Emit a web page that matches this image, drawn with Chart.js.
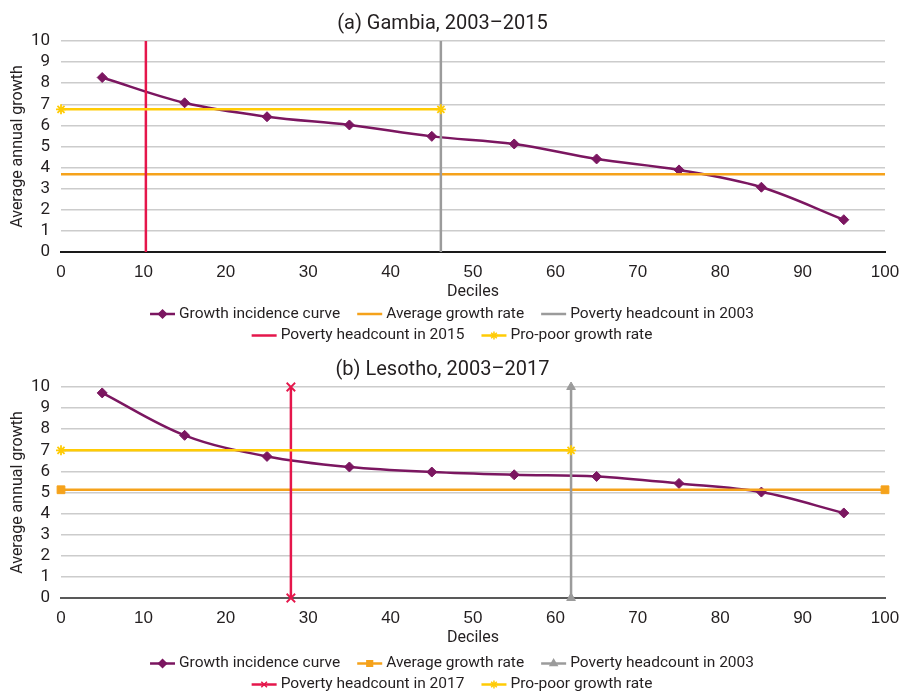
<!DOCTYPE html>
<html>
<head>
<meta charset="utf-8">
<script src="https://cdn.jsdelivr.net/npm/chart.js@4.4.1/dist/chart.umd.min.js"></script>
<style>
  html, body { margin: 0; padding: 0; background: #ffffff; }
  canvas { display: block; }
</style>
</head>
<body>
<canvas id="gambia" width="901" height="346"></canvas>
<canvas id="lesotho" width="901" height="347"></canvas>
<script>
// Decile midpoints (percent of population)
const deciles = [5, 15, 25, 35, 45, 55, 65, 75, 85, 95];

// (a) Gambia, 2003–2015
const gambiaGIC = [8.27, 7.07, 6.41, 6.02, 5.48, 5.12, 4.41, 3.89, 3.07, 1.53];
const gambiaAverage = 3.69;
const gambiaProPoor = 6.76;
const gambiaHeadcountStart = 46.1;  // poverty headcount, 2003
const gambiaHeadcountEnd = 10.3;    // poverty headcount, 2015

// (b) Lesotho, 2003–2017
const lesothoGIC = [9.72, 7.71, 6.71, 6.21, 5.97, 5.84, 5.76, 5.43, 5.02, 4.03];
const lesothoAverage = 5.13;
const lesothoProPoor = 7.0;
const lesothoHeadcountStart = 61.9; // poverty headcount, 2003
const lesothoHeadcountEnd = 27.9;   // poverty headcount, 2017

// Axis ticks
const xTicks = [0, 10, 20, 30, 40, 50, 60, 70, 80, 90, 100];
const yTicks = [0, 1, 2, 3, 4, 5, 6, 7, 8, 9, 10];
const xRange = [0, 100];
const yRange = [0, 10];

const NARROW = "Roboto, 'Liberation Sans', sans-serif";
const WIDE = "'Liberation Sans', Arial, sans-serif";
const TEXT = '#231f20';
const COLORS = {
  gic: '#7b1660',
  average: '#f5a21b',
  start: '#9b9b9b',
  end: '#e5164b',
  proPoor: '#ffcb05'
};

function points(xs, ys) {
  return xs.map((x, i) => ({ x: x, y: ys[i] }));
}

// Two-row centred legend drawn under the axis title
const rowLegend = {
  id: 'rowLegend',
  afterDraw(chart, args, opts) {
    const ctx = chart.ctx;
    const ds = chart.data.datasets;
    ctx.save();
    ctx.font = opts.fontSize + 'px ' + NARROW;
    ctx.textBaseline = 'middle';
    ctx.textAlign = 'left';
    opts.rows.forEach((row, r) => {
      const y = opts.y[r];
      const widths = row.map(i => opts.box + opts.gap + ctx.measureText(ds[i].label).width);
      const total = widths.reduce((a, b) => a + b, 0) + opts.spacing * (row.length - 1);
      let x = opts.center - total / 2;
      row.forEach((i, k) => {
        const d = ds[i];
        ctx.strokeStyle = d.borderColor;
        ctx.fillStyle = d.borderColor;
        ctx.lineWidth = 2.5;
        ctx.beginPath();
        ctx.moveTo(x, y);
        ctx.lineTo(x + opts.box, y);
        ctx.stroke();
        if (d.legendMarker) {
          ctx.lineWidth = 1.5;
          Chart.helpers.drawPoint(ctx, {
            pointStyle: d.legendMarker, radius: 4, borderWidth: 1.5, rotation: 0
          }, x + opts.box / 2, y);
        }
        ctx.fillStyle = TEXT;
        ctx.fillText(d.label, x + opts.box + opts.gap, y);
        x += widths[k] + opts.spacing;
      });
    });
    ctx.restore();
  }
};

function buildChart(id, cfg) {
  const hline = (y, x0, x1) => [{ x: x0, y: y }, { x: x1, y: y }];
  const vline = (x) => [{ x: x, y: yRange[0] }, { x: x, y: yRange[1] }];
  const datasets = [
    {
      label: 'Growth incidence curve',
      data: points(deciles, cfg.gic),
      borderColor: COLORS.gic, backgroundColor: COLORS.gic,
      borderWidth: 2.5, tension: 0.35,
      pointStyle: 'rectRot', pointRadius: 5, pointBorderWidth: 1,
      legendMarker: 'rectRot', order: 5
    },
    {
      label: 'Average growth rate',
      data: hline(cfg.average, xRange[0], xRange[1]),
      borderColor: COLORS.average, backgroundColor: COLORS.average,
      borderWidth: 2.5,
      pointStyle: 'rect', pointRadius: cfg.markers ? 5.5 : 0, pointBorderWidth: 1,
      legendMarker: cfg.markers ? 'rect' : null, order: 4
    },
    {
      label: 'Poverty headcount in 2003',
      data: vline(cfg.start),
      borderColor: COLORS.start, backgroundColor: COLORS.start,
      borderWidth: 2.5,
      pointStyle: 'triangle', pointRadius: cfg.markers ? 5 : 0, pointBorderWidth: 1,
      legendMarker: cfg.markers ? 'triangle' : null, order: 3
    },
    {
      label: cfg.endLabel,
      data: vline(cfg.end),
      borderColor: COLORS.end, backgroundColor: COLORS.end,
      borderWidth: 2.5,
      pointStyle: 'crossRot', pointRadius: cfg.markers ? 6 : 0, pointBorderWidth: 1.8,
      legendMarker: cfg.markers ? 'crossRot' : null, order: 2
    },
    {
      label: 'Pro-poor growth rate',
      data: hline(cfg.proPoor, xRange[0], cfg.start),
      borderColor: COLORS.proPoor, backgroundColor: COLORS.proPoor,
      borderWidth: 2.5,
      pointStyle: 'star', pointRadius: 5, pointBorderWidth: 1.8,
      legendMarker: 'star', order: 1
    }
  ];
  datasets.forEach(d => { d.clip = false; d.fill = false; });

  return new Chart(document.getElementById(id), {
    type: 'line',
    data: { datasets: datasets },
    options: {
      responsive: false,
      animation: false,
      devicePixelRatio: 1,
      layout: { padding: { top: 0, left: 0, right: 16, bottom: cfg.bottomPad } },
      plugins: {
        legend: { display: false },
        tooltip: { enabled: false },
        title: {
          display: true, text: cfg.title, color: TEXT,
          font: { family: NARROW, size: 20, weight: 'normal' },
          padding: { top: 12, bottom: 5 }
        },
        rowLegend: {
          rows: [[0, 1, 2], [3, 4]], y: cfg.legendY,
          center: 452, box: 25, gap: 4, spacing: 17, fontSize: 15.5
        }
      },
      scales: {
        x: {
          type: 'linear', min: xRange[0], max: xRange[1],
          afterBuildTicks: s => { s.ticks = xTicks.map(v => ({ value: v })); },
          afterFit: s => { s.paddingLeft = 0; s.paddingRight = 0; s.height = 50; },
          grid: { display: false, drawTicks: false },
          border: { display: true, color: cfg.axisColor, width: 2 },
          ticks: {
            padding: 10, color: TEXT, autoSkip: false, maxRotation: 0,
            font: { family: WIDE, size: 17 }
          },
          title: {
            display: true, text: 'Deciles', color: TEXT,
            font: { family: NARROW, size: 16 },
            padding: { top: 0, bottom: 0 }
          }
        },
        y: {
          type: 'linear', min: yRange[0], max: yRange[1],
          afterBuildTicks: s => { s.ticks = yTicks.map(v => ({ value: v })); },
          afterFit: s => { s.width = 61; },
          grid: { color: '#cccccc', lineWidth: 1.5, drawTicks: false },
          border: { display: false },
          ticks: {
            padding: 11, color: TEXT, autoSkip: false,
            font: { family: NARROW, size: 17 }
          },
          title: {
            display: true, text: 'Average annual growth', color: TEXT,
            font: { family: NARROW, size: 16 },
            padding: { top: 8, bottom: 0 }
          }
        }
      }
    },
    plugins: [rowLegend]
  });
}

buildChart('gambia', {
  title: '(a) Gambia, 2003–2015',
  gic: gambiaGIC, average: gambiaAverage, proPoor: gambiaProPoor,
  start: gambiaHeadcountStart, end: gambiaHeadcountEnd,
  endLabel: 'Poverty headcount in 2015',
  markers: false, axisColor: '#1a1a1a',
  bottomPad: 44, legendY: [314, 335.5]
});

buildChart('lesotho', {
  title: '(b) Lesotho, 2003–2017',
  gic: lesothoGIC, average: lesothoAverage, proPoor: lesothoProPoor,
  start: lesothoHeadcountStart, end: lesothoHeadcountEnd,
  endLabel: 'Poverty headcount in 2017',
  markers: true, axisColor: '#595959',
  bottomPad: 45, legendY: [317.5, 338.5]
});
</script>
</body>
</html>
